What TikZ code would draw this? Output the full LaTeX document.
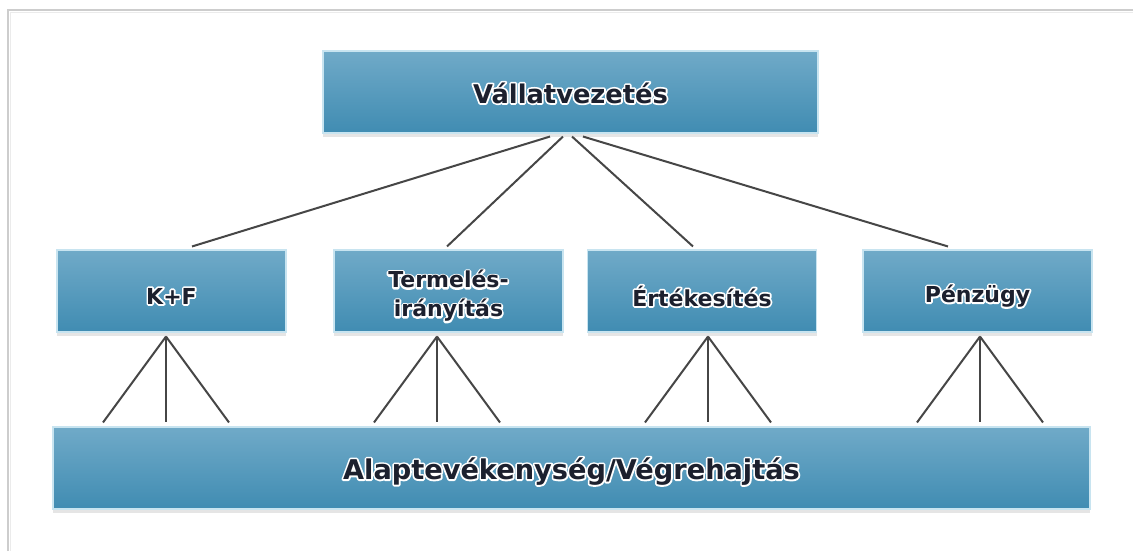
\documentclass[tikz,border=0pt]{standalone}
\usepackage{fontspec}
\setmainfont{DejaVu Sans}
\usetikzlibrary{calc,shadows}
\definecolor{boxtop}{RGB}{112,170,200}
\definecolor{boxbot}{RGB}{64,140,178}
\definecolor{boxedge}{RGB}{200,228,240}
\definecolor{inktext}{RGB}{28,32,46}
\definecolor{linkgray}{RGB}{70,70,70}
\definecolor{framegray}{RGB}{205,205,205}
% dark lettering with a white halo: a stroked white copy underneath the filled text
\newcommand{\glowdrop}{0pt}
\newcommand{\glowtext}[1]{%
  \raisebox{-\glowdrop}[\height][\depth]{%
    \rlap{\color{white}\special{pdf:literal direct 2 Tr 2.6 w 1 j}#1\special{pdf:literal direct 0 Tr}}%
    #1}}
\tikzset{
  unitbox/.style={rectangle, top color=boxtop, bottom color=boxbot,
    draw=boxedge, line width=0.8pt, inner sep=0pt, text=inktext,
    align=center,
    drop shadow={shadow xshift=0pt, shadow yshift=-3pt, fill=black!14, opacity=0.7}},
  topbox/.style={unitbox, minimum width=495*0.75pt, minimum height=82*0.75pt,
    font=\bfseries\fontsize{19.3}{23}\selectfont\renewcommand{\glowdrop}{0.75pt}},
  midbox/.style={unitbox, minimum width=229*0.75pt, minimum height=82*0.75pt,
    font=\bfseries\fontsize{16.5}{21.75}\selectfont\renewcommand{\glowdrop}{3.75pt}},
  basebox/.style={unitbox, minimum width=1037*0.75pt, minimum height=82*0.75pt,
    font=\bfseries\fontsize{20.4}{24}\selectfont\renewcommand{\glowdrop}{2.5pt}},
  link/.style={draw=linkgray, line width=1.5pt}
}
\begin{document}
\begin{tikzpicture}[x=0.75pt, y=-0.75pt]
  \useasboundingbox (0,0) rectangle (1133,551);
  \fill[white] (0,0) rectangle (1133,551);
  % page frame
  \draw[framegray, line width=1.5pt] (7.5,551) -- (7.5,9.5) -- (1133,9.5);
  \draw[framegray!40, line width=1pt] (10.5,551) -- (10.5,12.5) -- (1133,12.5);

  % boxes
  \node[topbox] (top) at (570.5,92) {\glowtext{Vállatvezetés}};
  \node[midbox] (kf) at (171.5,291) {\glowtext{K+F}};
  \node[midbox] (term) at (448.5,291) {\glowtext{Termelés-}\\\glowtext{irányítás}};
  \node[midbox] (ert) at (702,291) {\glowtext{Értékesítés}};
  \node[midbox] (penz) at (977.5,291) {\glowtext{Pénzügy}};
  \node[basebox] (bot) at (571.5,468) {\glowtext{Alaptevékenység/Végrehajtás}};

  % management to departments
  \draw[link] ([shift={(-20.5,3)}]top.south) -- ([shift={(20.5,-3)}]kf.north);
  \draw[link] ([shift={(-7.5,3)}]top.south) -- ([shift={(-1.5,-3)}]term.north);
  \draw[link] ([shift={(1.5,3)}]top.south) -- ([shift={(-9,-3)}]ert.north);
  \draw[link] ([shift={(12.5,3)}]top.south) -- ([shift={(-29.5,-3)}]penz.north);

  % departments to core activity
  \foreach \n/\dx in {kf/-5.5, term/-11.5, ert/6, penz/2.5} {
    \coordinate (\n-apex) at ([shift={(\dx,4)}]\n.south);
    \draw[link] (\n-apex) -- ($(\n-apex |- bot.north)+(-63,-4)$);
    \draw[link] (\n-apex) -- ($(\n-apex |- bot.north)+(0,-4)$);
    \draw[link] (\n-apex) -- ($(\n-apex |- bot.north)+(63,-4)$);
  }
\end{tikzpicture}
\end{document}
